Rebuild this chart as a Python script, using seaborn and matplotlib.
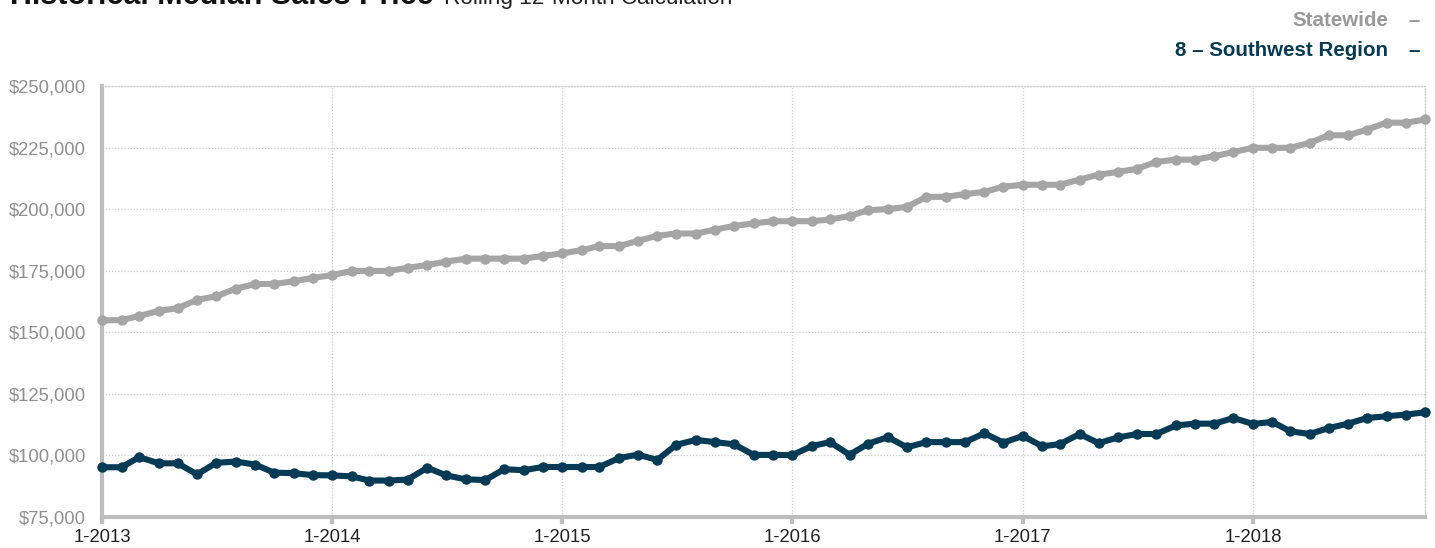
import matplotlib
matplotlib.use("Agg")
import matplotlib.pyplot as plt
import seaborn as sns
import pandas as pd
import numpy as np

# ---- data ----
months = pd.date_range("2013-01-01", "2018-10-01", freq="MS")

statewide = [
    154800, 155000, 156600, 158700, 159800, 163200, 164600, 167700, 169600, 169600, 170700, 172100,
    173200, 174900, 174900, 174900, 176200, 177300, 178700, 179900, 179900, 179900, 179900, 181000,
    182000, 183400, 185000, 185000, 187100, 189200, 190100, 190100, 191700, 193200, 194200, 195100,
    195100, 195100, 195800, 197200, 199600, 200000, 200900, 205000, 205000, 206100, 207000, 209100,
    209900, 209900, 209900, 212000, 214000, 215100, 216400, 219200, 220100, 220100, 221500, 223200,
    224900, 224900, 224900, 226900, 230000, 230000, 232300, 235100, 235100, 236400,
]
southwest = [
    95200, 95200, 99300, 96800, 96800, 92300, 97000, 97500, 96300, 93000, 92800, 92000,
    91900, 91500, 89800, 89800, 90200, 95000, 91900, 90300, 90000, 94400, 94000, 95300,
    95300, 95300, 95300, 98900, 100300, 98200, 104300, 106300, 105400, 104500, 100200, 100200,
    100100, 103800, 105400, 100300, 104800, 107400, 103300, 105400, 105400, 105400, 109000, 105200,
    107900, 103700, 104600, 108700, 105000, 107300, 108700, 108700, 112200, 112900, 112900, 115200,
    112800, 113600, 109800, 108700, 111100, 112900, 115200, 115900, 116600, 117500,
]
series_names = ["Statewide", "8 – Southwest Region"]
year_ticks = ["2013-01-01", "2014-01-01", "2015-01-01", "2016-01-01", "2017-01-01", "2018-01-01"]
year_labels = ["1-2013", "1-2014", "1-2015", "1-2016", "1-2017", "1-2018"]
y_ticks = [75000, 100000, 125000, 150000, 175000, 200000, 225000, 250000]

GRAY = "#a5a5a5"
NAVY = "#063a55"

df = pd.DataFrame({
    "month": list(months) * 2,
    "price": statewide + southwest,
    "series": [series_names[0]] * len(statewide) + [series_names[1]] * len(southwest),
})

sns.set_theme(style="white")
plt.rcParams["font.family"] = ["Liberation Sans", "DejaVu Sans"]

fig = plt.figure(figsize=(14.35, 5.48), dpi=100)
ax = fig.add_axes([102 / 1435, 1 - 517 / 548, (1425 - 102) / 1435, (517 - 86) / 548])

sns.lineplot(data=df, x="month", y="price", hue="series",
             palette={series_names[0]: GRAY, series_names[1]: NAVY},
             hue_order=series_names,
             marker="o", markersize=7.5, markeredgewidth=0, linewidth=4.4,
             legend=False, ax=ax, clip_on=False, zorder=5)

ax.set_xlim(months[0], months[-1])
ax.set_ylim(75000, 250000)
ax.set_yticks(y_ticks)
ax.set_yticklabels([f"${v:,.0f}" for v in y_ticks])
ax.set_xticks(pd.to_datetime(year_ticks))
ax.set_xticklabels(year_labels)
ax.set_xlabel("")
ax.set_ylabel("")

ax.grid(True, linestyle=(0, (1, 1.5)), color="#cccccc", linewidth=0.9)
ax.set_axisbelow(True)

for s in ["left", "bottom"]:
    ax.spines[s].set_color("#bdbdbd")
    ax.spines[s].set_linewidth(3)
for s in ["top", "right"]:
    ax.spines[s].set_visible(True)
    ax.spines[s].set_color("#cccccc")
    ax.spines[s].set_linewidth(0.9)
    ax.spines[s].set_linestyle((0, (1, 1.5)))

ax.tick_params(axis="x", which="major", bottom=True, length=5, width=3, color="#bdbdbd",
               labelsize=13.3, labelcolor="#222222", pad=4)
ax.tick_params(axis="y", which="major", left=False, length=0, labelsize=13.3,
               labelcolor="#8f8f8f", pad=11.5)

# title (partially cut off at the top, as in the reference)
fig.text(10 / 1435, 1 - 4 / 548, "Historical Median Sales Price", fontsize=22, fontweight="bold",
         color="#111111", ha="left", va="baseline")
fig.text(444 / 1435, 1 - 4 / 548, "Rolling 12-Month Calculation", fontsize=16.2,
         color="#222222", ha="left", va="baseline")

# legend
fig.text(1388 / 1435, 1 - 21 / 548, series_names[0], fontsize=14.8, fontweight="bold",
         color="#999999", ha="right", va="center")
fig.text(1420 / 1435, 1 - 21 / 548, "–", fontsize=14.8, fontweight="bold",
         color="#999999", ha="right", va="center")
fig.text(1388 / 1435, 1 - 50 / 548, series_names[1], fontsize=14.8, fontweight="bold",
         color=NAVY, ha="right", va="center")
fig.text(1420 / 1435, 1 - 50 / 548, "–", fontsize=14.8, fontweight="bold",
         color=NAVY, ha="right", va="center")

fig.savefig("out.png", dpi=100)
